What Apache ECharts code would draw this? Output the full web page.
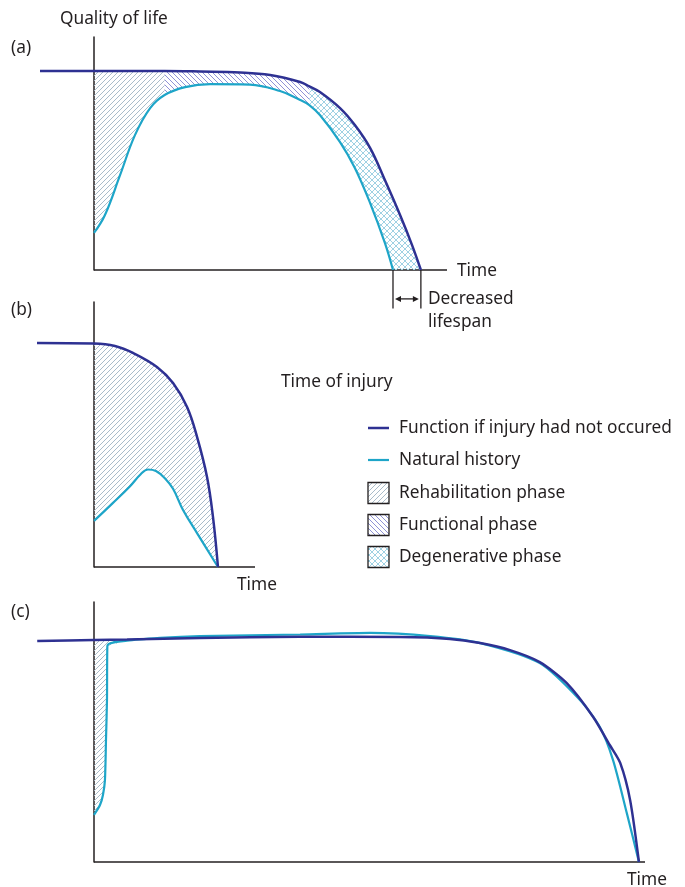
<!DOCTYPE html>
<html><head><meta charset="utf-8">
<script src="https://cdn.jsdelivr.net/npm/echarts@6/dist/echarts.min.js"></script>
<style>html,body{margin:0;padding:0;background:#fff}#c{width:685px;height:887px}</style>
</head><body><div id="c"></div>
<script>
// ---------- DATA ----------
// Panel (a)
const darkA = [[-15.3,85.4],[0,85.4],[20,85.4],[30,85.2],[41.4,84.8],[49.9,83.7],[58.4,80.7],[61,78.8],[64,76.4],[69.7,69.5],[73.9,62.2],[78.2,52.4],[82.4,38.6],[86.7,23.6],[90.1,10.7],[92.6,0]];
const cyanA = [[0,15.9],[3.1,23.6],[7.4,40.8],[11.6,57.9],[15.9,69.5],[20,75.1],[25.8,78.5],[32.9,79.8],[44.2,79.6],[52.7,76.8],[58.4,73.0],[61,70.8],[64,66.5],[69.7,54.9],[73.9,43.8],[78.2,28.8],[82.4,11.6],[84.7,0]];
const phasesA = [['rehab',0,20],['functional',20,61],['degenerative',61,100]];
const lifespanEnds = [84.7, 92.6];
const xEndA = 100;
// Panel (b)
const darkB = [[-35.4,84.5],[0,84.3],[13,83.4],[24.2,80.8],[39.1,75.5],[49.1,69.4],[57.8,60.4],[64,49.1],[70.2,34.0],[73.9,18.9],[77,0]];
const cyanB = [[0,17.4],[11.8,24.2],[22.4,30.5],[29,35],[33.5,36.8],[38.5,36.2],[44,33.5],[49.1,29.5],[55.3,21.5],[64,12.8],[77,0]];
const phasesB = [['rehab',0,100]];
const xEndB = 100;
// Panel (c)
const darkC = [[-10.3,85.0],[0,85.4],[6,85.6],[19.2,86.2],[37.4,86.6],[55.5,86.5],[64.6,85.8],[70.1,84.2],[75.5,81.5],[80.9,76.9],[85.8,68.8],[90.6,55.8],[93.6,45.0],[95.5,38.1],[97.3,23.8],[98.9,0]];
const cyanC = [[0,18.1],[1.09,21.9],[1.63,25.8],[1.99,31.5],[2.18,46.9],[2.36,62.3],[2.43,83.1],[6,85.1],[12,86.2],[19.2,86.9],[37.4,87.5],[50.1,88.1],[61,86.9],[70.1,84.2],[80.9,76.5],[88.2,62.3],[91.8,51.9],[94.2,39.2],[96.7,18.8],[98.9,0]];
const phasesC = [['rehab',0,6]];
const xEndC = 100;
// Text
const legendLabels = ['Function if injury had not occured','Natural history','Rehabilitation phase','Functional phase','Degenerative phase'];
const panelLabels = ['(a)','(b)','(c)'];

// ---------- STYLE ----------
const DARK = '#2e3192', CYAN = '#1ea5c8', INK = '#231f20';
const FONT = '"Noto Sans", sans-serif';

function hatch(type, color, size, lw){
  const c = document.createElement('canvas'); c.width = c.height = size;
  const g = c.getContext('2d'); g.strokeStyle = color; g.lineWidth = lw;
  g.beginPath();
  if (type === '/' || type === 'x') {
    g.moveTo(-1,size+1); g.lineTo(size+1,-1);
    g.moveTo(-1,1); g.lineTo(1,-1);
    g.moveTo(size-1,size+1); g.lineTo(size+1,size-1);
  }
  if (type === '\\' || type === 'x') {
    g.moveTo(-1,-1); g.lineTo(size+1,size+1);
    g.moveTo(size-1,-1); g.lineTo(size+1,1);
    g.moveTo(-1,size-1); g.lineTo(1,size+1);
  }
  g.stroke();
  return {image: c, repeat: 'repeat'};
}
const patterns = {
  rehab: hatch('/', '#a9bcca', 5, 1),
  functional: hatch('\\', '#8f92d6', 5, 1),
  degenerative: hatch('x', '#9fd1e3', 6, 1)
};

function phasePoly(upper, lower, x0, x1, api){
  const inR = p => p[0] >= x0 - 1e-9 && p[0] <= x1 + 1e-9;
  const up = upper.filter(inR);
  const lo = lower.filter(inR).slice().reverse();
  return up.concat(lo).map(p => api.coord(p));
}

function xAx(idx, min){
  return {type:'value', gridIndex:idx, min:min, max:100, axisLine:{show:false},
    axisTick:{show:false}, axisLabel:{show:false}, splitLine:{show:false}};
}
function yAx(idx){
  return {type:'value', gridIndex:idx, min:0, max:100, axisLine:{show:true, onZero:true, lineStyle:{color:INK, width:1.5}},
    axisTick:{show:false}, axisLabel:{show:false}, splitLine:{show:false}};
}

function panelSeries(idx, dark, cyan, phases, xEnd, sm){
  return [
    {type:'custom', xAxisIndex:idx, yAxisIndex:idx, clip:false, z:0, silent:true,
     data:[[0,0]],
     renderItem: (params, api) => {
       const a = api.coord([0,0]), b = api.coord([xEnd,0]);
       return {type:'line', shape:{x1:a[0], y1:a[1], x2:b[0], y2:b[1]}, style:{stroke:INK, lineWidth:1.5}};
     }},
    {type:'custom', xAxisIndex:idx, yAxisIndex:idx, clip:false, z:1, silent:true,
     data: phases.map(p => [p[1], 0]),
     renderItem: (params, api) => {
       const ph = phases[params.dataIndex];
       return {type:'polygon', shape:{points: phasePoly(dark, cyan, ph[1], ph[2], api)},
               style:{fill: patterns[ph[0]], stroke: null}};
     }},
    {type:'line', name:'Natural history', xAxisIndex:idx, yAxisIndex:idx, data: cyan, z:3,
     showSymbol:false, smooth:sm, lineStyle:{color:CYAN, width:2.2}},
    {type:'line', name:'Function if injury had not occured', xAxisIndex:idx, yAxisIndex:idx, data: dark, z:4,
     showSymbol:false, smooth:sm, lineStyle:{color:DARK, width:2.5}}
  ];
}

const series = [].concat(
  panelSeries(0, darkA, cyanA, phasesA, xEndA, 0.4),
  panelSeries(1, darkB, cyanB, phasesB, xEndB, 0.4),
  panelSeries(2, darkC, cyanC, phasesC, xEndC, 0.25)
);
// Decreased lifespan bracket (panel a)
series.push({type:'custom', xAxisIndex:0, yAxisIndex:0, clip:false, z:5, silent:true,
  data:[[lifespanEnds[0],0]],
  renderItem: (params, api) => {
    const a0 = api.coord([lifespanEnds[0],0]), a1 = api.coord([lifespanEnds[0],-16.5]);
    const b0 = api.coord([lifespanEnds[1],0]), b1 = api.coord([lifespanEnds[1],-16.5]);
    const ay = api.coord([0,-12.4])[1];
    const L = a0[0] + 2, R = b0[0] - 2;
    const st = {stroke: INK, lineWidth: 1.3};
    return {type:'group', children:[
      {type:'line', shape:{x1:a0[0], y1:a0[1], x2:a1[0], y2:a1[1]}, style:st},
      {type:'line', shape:{x1:b0[0], y1:b0[1], x2:b1[0], y2:b1[1]}, style:st},
      {type:'line', shape:{x1:L+4, y1:ay, x2:R-4, y2:ay}, style:st},
      {type:'polygon', shape:{points:[[L,ay],[L+6,ay-3],[L+6,ay+3]]}, style:{fill:INK}},
      {type:'polygon', shape:{points:[[R,ay],[R-6,ay-3],[R-6,ay+3]]}, style:{fill:INK}}
    ]};
  }});

// ---------- GRAPHIC (texts + legend) ----------
function txt(t, x, y, size, align){
  return {type:'text', x:x, y:y, silent:true,
    style:{text:t, fill:INK, font:size+'px '+FONT, textAlign:align||'left', textVerticalAlign:'middle', align:align||'left', verticalAlign:'middle'}};
}
const FS = 17.3;
const graphic = [
  txt('Quality of life', 60, 19, FS),
  txt(panelLabels[0], 11, 48, FS),
  txt('Time', 457, 271, FS),
  txt('Decreased', 428, 299, FS),
  txt('lifespan', 428, 322, FS),
  txt(panelLabels[1], 11, 310, FS),
  txt('Time of injury', 281, 382, FS),
  txt('Time', 237, 585, FS),
  txt(panelLabels[2], 11, 612, FS),
  txt('Time', 627, 880, FS)
];
const legY = [428, 460, 493, 525, 557];
const legX = 368;
graphic.push({type:'line', shape:{x1:legX, y1:legY[0], x2:legX+21, y2:legY[0]}, style:{stroke:DARK, lineWidth:2.5}});
graphic.push({type:'line', shape:{x1:legX, y1:legY[1], x2:legX+21, y2:legY[1]}, style:{stroke:CYAN, lineWidth:2.2}});
['rehab','functional','degenerative'].forEach((k,i) => {
  graphic.push({type:'rect', shape:{x:legX, y:legY[i+2]-10.5, width:21, height:21},
    style:{fill:patterns[k], stroke:INK, lineWidth:1.3}});
});
legendLabels.forEach((t,i) => graphic.push(txt(t, 399, legY[i], FS)));

const chart = echarts.init(document.getElementById('c'), null, {renderer:'canvas'});
chart.setOption({
  animation:false,
  backgroundColor:'#fff',
  grid:[
    {left:40, top:37, width:407, height:233},
    {left:37, top:302, width:218, height:265},
    {left:37, top:602, width:608, height:260}
  ],
  xAxis:[xAx(0,-15.3), xAx(1,-35.4), xAx(2,-10.34)],
  yAxis:[yAx(0), yAx(1), yAx(2)],
  series: series,
  graphic: graphic
});
</script></body></html>
